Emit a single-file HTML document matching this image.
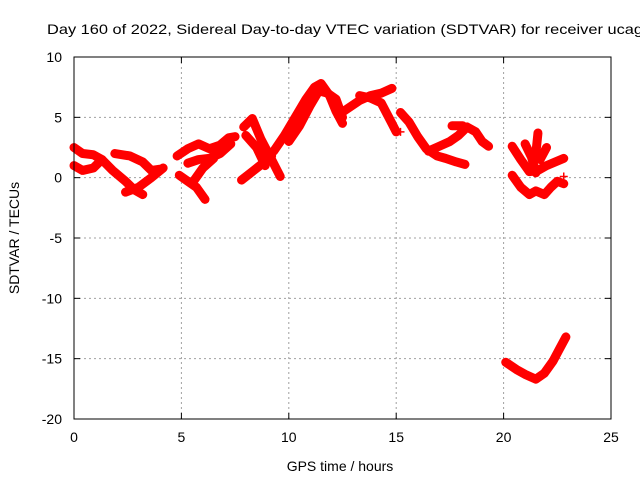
<!DOCTYPE html>
<html><head><meta charset="utf-8"><style>
body{margin:0;background:#fff;width:640px;height:480px;overflow:hidden}
svg{font-family:"Liberation Sans",sans-serif}
</style></head><body>
<svg id="c" width="640" height="480">
<text x="47" y="34" font-size="14" textLength="596" lengthAdjust="spacingAndGlyphs">Day 160 of 2022, Sidereal Day-to-day VTEC variation (SDTVAR) for receiver ucag</text>
<text x="340" y="471" font-size="14" text-anchor="middle">GPS time / hours</text>
<text transform="translate(19,238) rotate(-90)" font-size="14" text-anchor="middle">SDTVAR / TECUs</text>
<g id="grid"></g><g id="ticks"></g><g id="marks"></g>
<rect x="74" y="57" width="537" height="362" fill="none" stroke="#000" stroke-width="1"/>
</svg>
<script>
const xTicks=[0,5,10,15,20,25];
const yTicks=[10,5,0,-5,-10,-15,-20];
const tracks=[
[[0,2.5],[0.4,2.0],[0.9,1.9],[1.3,1.5],[1.8,0.6],[2.4,-0.3],[2.8,-1.0],[3.2,-1.4]],
[[0,1.0],[0.4,0.6],[0.9,0.8],[1.3,1.5]],
[[1.9,2.0],[2.6,1.8],[3.2,1.3],[3.6,0.6],[4.0,0.7]],
[[2.4,-1.2],[3.0,-0.8],[3.6,0],[4.15,0.8]],
[[4.8,1.8],[5.3,2.4],[5.8,2.8],[6.3,2.4],[6.8,2.7],[7.2,3.3],[7.5,3.4]],
[[5.3,1.2],[5.8,1.5],[6.3,1.6],[6.8,2.0],[7.3,2.8]],
[[4.9,0.2],[5.3,-0.3],[5.7,-0.8],[6.1,-1.8]],
[[5.6,-0.2],[6.0,0.8],[6.5,1.6]],
[[7.8,-0.2],[8.3,0.5],[8.8,1.2],[9.2,1.8]],
[[7.9,4.2],[8.3,4.9],[8.7,3.2],[9.2,1.5],[9.6,0.1]],
[[8.0,3.5],[8.5,2.5],[8.9,1.0]],
[[9.3,2.2],[9.8,3.5],[10.3,5.0],[10.8,6.5],[11.2,7.5],[11.5,7.8],[11.9,6.8],[12.2,5.5],[12.5,4.5]],
[[10.0,3.0],[10.5,4.3],[11.0,6.0],[11.4,7.2],[11.8,7.0],[12.2,6.5],[12.5,5.0]],
[[12.3,5.2],[12.8,5.8],[13.3,6.4],[13.8,6.8],[14.3,7.0],[14.8,7.4]],
[[13.3,6.8],[13.8,6.6],[14.3,6.2],[14.8,4.5],[15.0,3.8]],
[[15.2,5.4],[15.6,4.6],[16.0,3.4],[16.4,2.4],[16.9,1.8],[17.3,1.6],[17.8,1.3],[18.2,1.1]],
[[16.5,2.2],[17.0,2.6],[17.5,3.0],[17.9,3.5],[18.3,4.2],[18.7,3.8],[19.0,3.0],[19.3,2.6]],
[[17.6,4.3],[18.1,4.3]],
[[20.4,2.6],[20.8,1.5],[21.2,0.5],[21.6,0.6],[22.0,1.0],[22.4,1.3],[22.8,1.6]],
[[20.4,0.2],[20.8,-0.8],[21.2,-1.4],[21.5,-1.1],[21.9,-1.4],[22.2,-0.8],[22.5,-0.3],[22.8,-0.5]],
[[21.0,2.8],[21.3,1.7],[21.5,0.4]],
[[21.6,3.7],[21.5,2.0]],
[[22.0,2.5],[21.7,1.5]],
[[20.1,-15.3],[20.6,-15.9],[21.0,-16.3],[21.5,-16.7],[21.9,-16.2],[22.3,-15.2],[22.6,-14.2],[22.9,-13.2]]
];
const singles=[[15.2,3.8],[22.8,0.1]];
const NS="http://www.w3.org/2000/svg";
const sx=h=>74+h*537/25, sy=v=>57+(10-v)*362/30;
function mk(t,a,p){const e=document.createElementNS(NS,t);for(const k in a)e.setAttribute(k,a[k]);p.appendChild(e);return e;}
const g=document.getElementById('grid'),tk=document.getElementById('ticks'),m=document.getElementById('marks');
xTicks.forEach(t=>{const x=sx(t);
 if(t>0&&t<25){const l=mk('line',{x1:x,x2:x,y1:57,y2:419,stroke:'#a0a0a0','stroke-dasharray':'2,3'},g);
 
 }
 const tx=mk('text',{x:x,y:442,'font-size':14,'text-anchor':'middle'},tk);tx.textContent=t;
 
 
 mk('line',{x1:x,x2:x,y1:419,y2:413,stroke:'#000'},tk);mk('line',{x1:x,x2:x,y1:57,y2:63,stroke:'#000'},tk);});
yTicks.forEach(t=>{const y=sy(t);
 if(t<10&&t>-20){const l=mk('line',{x1:74,x2:611,y1:y,y2:y,stroke:'#a0a0a0','stroke-dasharray':'2,3'},g);
 
 }
 const tx=mk('text',{x:62,y:y+5,'font-size':14,'text-anchor':'end'},tk);tx.textContent=t;
 
 
 mk('line',{x1:74,x2:80,y1:y,y2:y,stroke:'#000'},tk);mk('line',{x1:611,x2:605,y1:y,y2:y,stroke:'#000'},tk);});
tracks.forEach(tr=>{
 const p=mk('polyline',{points:tr.map(d=>sx(d[0])+','+sy(d[1])).join(' '),fill:'none',stroke:'#f00','stroke-width':9,'stroke-linejoin':'round','stroke-linecap':'round'},m);
 
 });
singles.forEach(d=>{const x=sx(d[0]),y=sy(d[1]);
 const p=mk('path',{d:`M${x-4},${y}H${x+4}M${x},${y-4}V${y+4}`,stroke:'#f00','stroke-width':1.5},m);
 
 });
</script>
</body></html>
